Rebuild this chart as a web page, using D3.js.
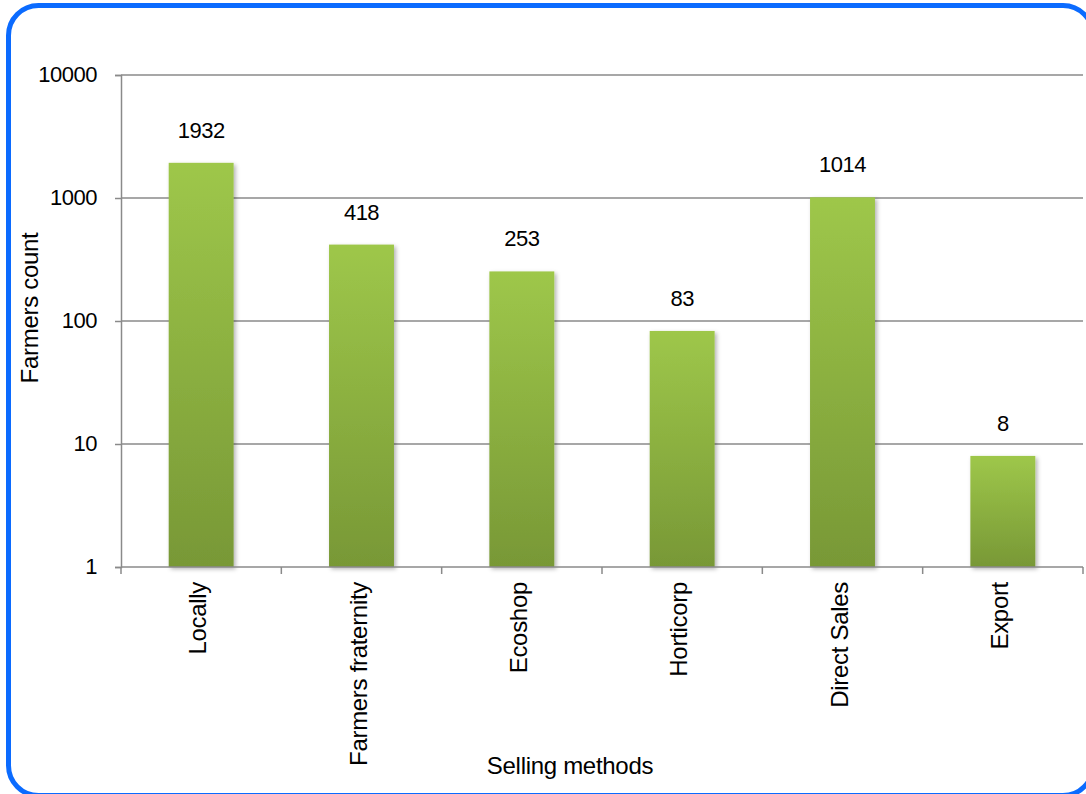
<!DOCTYPE html>
<html>
<head>
<meta charset="utf-8">
<script src="https://cdn.jsdelivr.net/npm/d3@7"></script>
<style>
  html, body { margin: 0; padding: 0; background: #fff; overflow: hidden; }
  svg { display: block; font-family: "Liberation Sans", Arial, Helvetica, sans-serif; }
</style>
</head>
<body>
<svg id="chart" width="1086" height="794"></svg>
<script>
// Selling methods and the number of farmers using each
const categories = ["Locally", "Farmers fraternity", "Ecoshop", "Horticorp", "Direct Sales", "Export"];
const farmers = [1932, 418, 253, 83, 1014, 8];
const yTicks = [1, 10, 100, 1000, 10000];

const svg = d3.select("#chart");
const plot = { left: 121, right: 1083, top: 75, bottom: 567 };

// Outer rounded frame
svg.append("rect")
  .attr("x", 8.5).attr("y", 5.5)
  .attr("width", 1084.5).attr("height", 790)
  .attr("rx", 30).attr("ry", 30)
  .attr("fill", "#fff")
  .attr("stroke", "#0b6bff")
  .attr("stroke-width", 5);

const defs = svg.append("defs");
const grad = defs.append("linearGradient")
  .attr("id", "barFill").attr("x1", 0).attr("y1", 0).attr("x2", 0).attr("y2", 1);
grad.append("stop").attr("offset", "0%").attr("stop-color", "#9ec74a");
grad.append("stop").attr("offset", "100%").attr("stop-color", "#789836");

const shadow = defs.append("filter").attr("id", "barShadow")
  .attr("x", "-20%").attr("y", "-5%").attr("width", "140%").attr("height", "115%");
shadow.append("feDropShadow")
  .attr("dx", 2).attr("dy", 2).attr("stdDeviation", 2)
  .attr("flood-color", "#000").attr("flood-opacity", 0.3);

const x = d3.scaleBand()
  .domain(categories)
  .range([plot.left, plot.right])
  .paddingInner(0.595)
  .paddingOuter(0.2975);

const y = d3.scaleLog()
  .domain([1, 10000])
  .range([plot.bottom, plot.top]);

const gridColor = "#8a8a8a";

// Horizontal gridlines
svg.append("g")
  .selectAll("line")
  .data(yTicks.filter(d => d > 1))
  .join("line")
  .attr("x1", plot.left).attr("x2", plot.right)
  .attr("y1", d => y(d)).attr("y2", d => y(d))
  .attr("stroke", gridColor).attr("stroke-width", 1.5);

// Y axis
const yAxis = svg.append("g")
  .attr("transform", `translate(${plot.left},0)`)
  .call(d3.axisLeft(y).tickValues(yTicks).tickFormat(d3.format("d")).tickSize(6).tickPadding(18));
yAxis.select(".domain").attr("stroke", gridColor).attr("stroke-width", 1.5);
yAxis.selectAll(".tick line").attr("stroke", gridColor).attr("stroke-width", 1.5);
yAxis.selectAll(".tick text")
  .attr("fill", "#000")
  .attr("dy", "0.28em")
  .style("font-size", "22px")
  .style("letter-spacing", "-0.5px");

// Bars
svg.append("g")
  .selectAll("rect")
  .data(categories)
  .join("rect")
  .attr("x", d => x(d))
  .attr("width", x.bandwidth())
  .attr("y", (d, i) => y(farmers[i]))
  .attr("height", (d, i) => y(1) - y(farmers[i]))
  .attr("fill", "url(#barFill)")
  .attr("filter", "url(#barShadow)");

// X axis with ticks at category boundaries
const xAxisG = svg.append("g")
  .attr("transform", `translate(0,${plot.bottom})`);
xAxisG.append("line")
  .attr("x1", plot.left).attr("x2", plot.right)
  .attr("stroke", gridColor).attr("stroke-width", 1.5);
const step = x.step();
xAxisG.selectAll("line.tick")
  .data(d3.range(categories.length + 1))
  .join("line")
  .attr("class", "tick")
  .attr("x1", i => plot.left + i * step).attr("x2", i => plot.left + i * step)
  .attr("y1", 0).attr("y2", 7)
  .attr("stroke", gridColor).attr("stroke-width", 1.5);

// Category labels, rotated
svg.append("g")
  .selectAll("text")
  .data(categories)
  .join("text")
  .attr("transform", d => `translate(${x(d) + x.bandwidth() / 2 + 5},${plot.bottom + 15}) rotate(-90)`)
  .attr("text-anchor", "end")
  .attr("fill", "#000")
  .style("font-size", "24px")
  .style("letter-spacing", "-0.3px")
  .text(d => d);

// Value labels above bars
svg.append("g")
  .selectAll("text")
  .data(categories)
  .join("text")
  .attr("x", d => x(d) + x.bandwidth() / 2)
  .attr("y", (d, i) => y(farmers[i]) - 25)
  .attr("text-anchor", "middle")
  .attr("fill", "#000")
  .style("font-size", "22px")
  .style("letter-spacing", "-0.5px")
  .text((d, i) => farmers[i]);

// Axis titles
svg.append("text")
  .attr("transform", `translate(38,308) rotate(-90)`)
  .attr("text-anchor", "middle")
  .attr("fill", "#000")
  .style("font-size", "24px")
  .style("letter-spacing", "-0.3px")
  .text("Farmers count");

svg.append("text")
  .attr("x", 570).attr("y", 774)
  .attr("text-anchor", "middle")
  .attr("fill", "#000")
  .style("font-size", "24px")
  .style("letter-spacing", "-0.3px")
  .text("Selling methods");
</script>
</body>
</html>
